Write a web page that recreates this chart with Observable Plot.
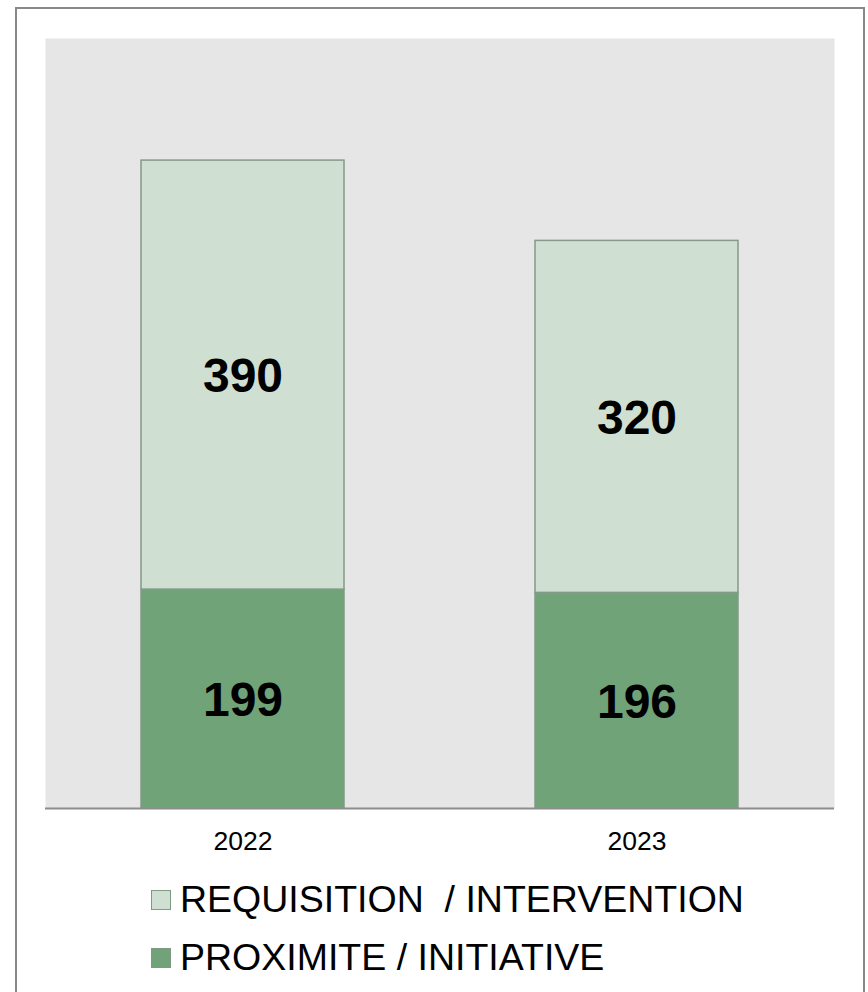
<!DOCTYPE html>
<html>
<head>
<meta charset="utf-8">
<script src="https://cdn.jsdelivr.net/npm/d3@7"></script>
<script src="https://cdn.jsdelivr.net/npm/@observablehq/plot@0.6"></script>
<style>
  html, body { margin: 0; padding: 0; background: #fff; width: 868px; height: 992px; overflow: hidden; }
  body { font-family: "Liberation Sans", Arial, sans-serif; position: relative; }
  #chart { position: absolute; left: 0; top: 0; }
  #frame { position: absolute; left: 15px; top: 7px; width: 846px; height: 1100px; border: 2px solid #888; pointer-events: none; }
  .leg { position: absolute; left: 151px; display: flex; align-items: center; font-size: 37.5px; color: #000; white-space: pre; }
  .sw { width: 18px; height: 18px; margin-right: 9px; border: 1px solid #7f9a82; }
</style>
</head>
<body>
<div id="chart"></div>
<div class="leg" style="top:878px"><div class="sw" style="background:#cfdfd1"></div><span>REQUISITION  / INTERVENTION</span></div>
<div class="leg" style="top:936px"><div class="sw" style="background:#71a379"></div><span>PROXIMITE / INITIATIVE</span></div>
<div id="frame"></div>
<script>
const years = ["2022", "2023"];
const seriesNames = ["PROXIMITE / INITIATIVE", "REQUISITION  / INTERVENTION"];
const proximite = [199, 196];
const requisition = [390, 320];
const seriesColors = ["#71a379", "#cfdfd1"];

const data = [];
years.forEach((y, i) => {
  data.push({year: y, series: seriesNames[0], value: proximite[i]});
  data.push({year: y, series: seriesNames[1], value: requisition[i]});
});

const chart = Plot.plot({
  width: 868,
  height: 870,
  marginLeft: 45,
  marginRight: 34,
  marginTop: 38,
  marginBottom: 62,
  style: {background: "transparent", fontFamily: "'Liberation Sans', Arial, sans-serif"},
  x: {domain: years, paddingInner: 0.486, paddingOuter: 0.243, label: null},
  y: {domain: [0, 700], axis: null},
  color: {domain: seriesNames, range: seriesColors},
  marks: [
    Plot.frame({fill: "#e6e6e6", stroke: null}),
    Plot.barY(data, Plot.stackY({x: "year", y: "value", z: "series", fill: "series", stroke: "#84998a", strokeWidth: 1.5})),
    Plot.ruleY([0], {stroke: "#8c8c8c", strokeWidth: 2}),
    Plot.text(data, Plot.stackY({x: "year", y: "value", z: "series", text: d => String(d.value), fontSize: 48, fontWeight: "bold", fill: "#000", dy: 2})),
    Plot.axisX({tickSize: 0, tickPadding: 23, fontSize: 26.5, label: null, fill: "#000"})
  ]
});
document.getElementById("chart").appendChild(chart);
</script>
</body>
</html>
